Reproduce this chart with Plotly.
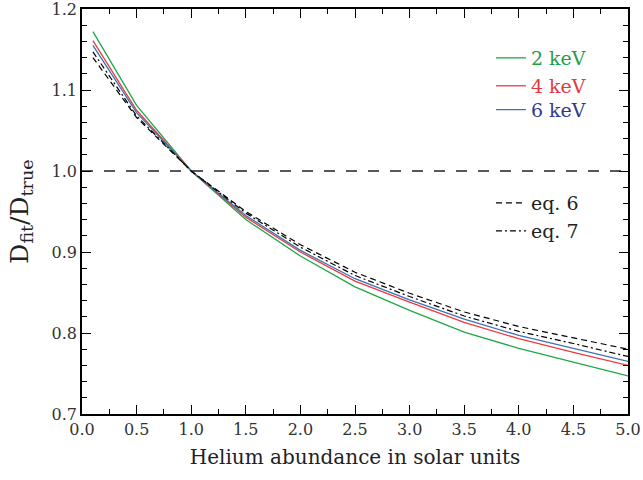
import plotly.graph_objects as go

# Helium abundance (solar units) at which the fits were evaluated
helium = [0.1, 0.5, 1.0, 1.5, 2.0, 2.5, 3.0, 3.5, 4.0, 4.5, 5.0]

# D_fit / D_true for each plasma temperature
ratio_2kev = [1.172, 1.081, 1.000, 0.940, 0.895, 0.857, 0.828, 0.801, 0.781, 0.764, 0.747]
ratio_4kev = [1.161, 1.075, 1.000, 0.943, 0.900, 0.864, 0.838, 0.813, 0.793, 0.776, 0.760]
ratio_6kev = [1.155, 1.072, 1.000, 0.945, 0.902, 0.867, 0.841, 0.817, 0.797, 0.781, 0.765]

# Analytic approximations
ratio_eq6 = [1.140, 1.066, 1.000, 0.950, 0.909, 0.875, 0.849, 0.826, 0.808, 0.794, 0.780]
ratio_eq7 = [1.147, 1.068, 1.000, 0.948, 0.906, 0.871, 0.845, 0.821, 0.802, 0.787, 0.771]

unity = 1.0

FONT = "DejaVu Serif"
GREEN, RED, BLUE = "#1fa64a", "#ee3a3e", "#3c72b8"
GREEN_TXT, RED_TXT, BLUE_TXT = "#1f9e48", "#e03a3e", "#2e3a8f"

# one legend per entry so each can be placed on its own row
series = [
    (ratio_2kev, dict(color=GREEN, width=1.3), GREEN_TXT, "2 keV", "legend", 0.879),
    (ratio_4kev, dict(color=RED, width=1.3), RED_TXT, "4 keV", "legend2", 0.810),
    (ratio_6kev, dict(color=BLUE, width=1.3), BLUE_TXT, "6 keV", "legend3", 0.751),
    (ratio_eq6, dict(color="black", width=1.2, dash="6px,4px"), "#222222", "eq. 6", "legend4", 0.521),
    (ratio_eq7, dict(color="black", width=1.2, dash="6px,3px,2px,3px"), "#222222", "eq. 7", "legend5", 0.452),
]

fig = go.Figure()
legends = {}
for vals, line, txt, label, leg, ypos in series:
    fig.add_trace(go.Scatter(
        x=helium, y=vals, mode="lines", line=line,
        name=label, legend=leg, showlegend=True,
    ))
    legends[leg] = dict(
        x=0.749, y=ypos, xanchor="left", yanchor="middle",
        font=dict(family=FONT, size=19, color=txt), bgcolor="rgba(0,0,0,0)",
        itemwidth=30,
    )

fig.add_shape(type="line", xref="paper", yref="y", x0=0, x1=1, y0=unity, y1=unity,
              line=dict(color="#222222", width=1.3, dash="11px,11px"), layer="below")

axis_common = dict(
    showline=True, linecolor="black", linewidth=1.5, mirror="allticks",
    ticks="inside", ticklen=9, tickwidth=1.3, tickcolor="black",
    showgrid=False, zeroline=False, automargin=False, ticklabeloverflow="allow",
    tickfont=dict(family=FONT, size=16, color="#333333"),
)

fig.update_xaxes(
    range=[0, 5], dtick=0.5, tick0=0, tickformat=".1f",
    minor=dict(dtick=0.25, ticks="inside", ticklen=5, tickwidth=1.1, tickcolor="black"),
    title=dict(text="Helium abundance in solar units", font=dict(family=FONT, size=20, color="#222222"), standoff=12),
    **axis_common,
)
fig.update_yaxes(
    range=[0.7, 1.2], dtick=0.1, tick0=0.7, tickformat=".1f",
    minor=dict(dtick=0.02, ticks="inside", ticklen=5, tickwidth=1.1, tickcolor="black"),
    title=dict(text="D<sub>fit</sub>/D<sub>true</sub>", font=dict(family=FONT, size=25, color="#222222"), standoff=16),
    **axis_common,
)

fig.update_layout(
    width=643, height=480,
    margin=dict(l=82, r=15, t=9, b=66),
    plot_bgcolor="white", paper_bgcolor="white",
    font=dict(family=FONT),
    showlegend=True,
    **legends,
)

fig.write_html("out.html")
